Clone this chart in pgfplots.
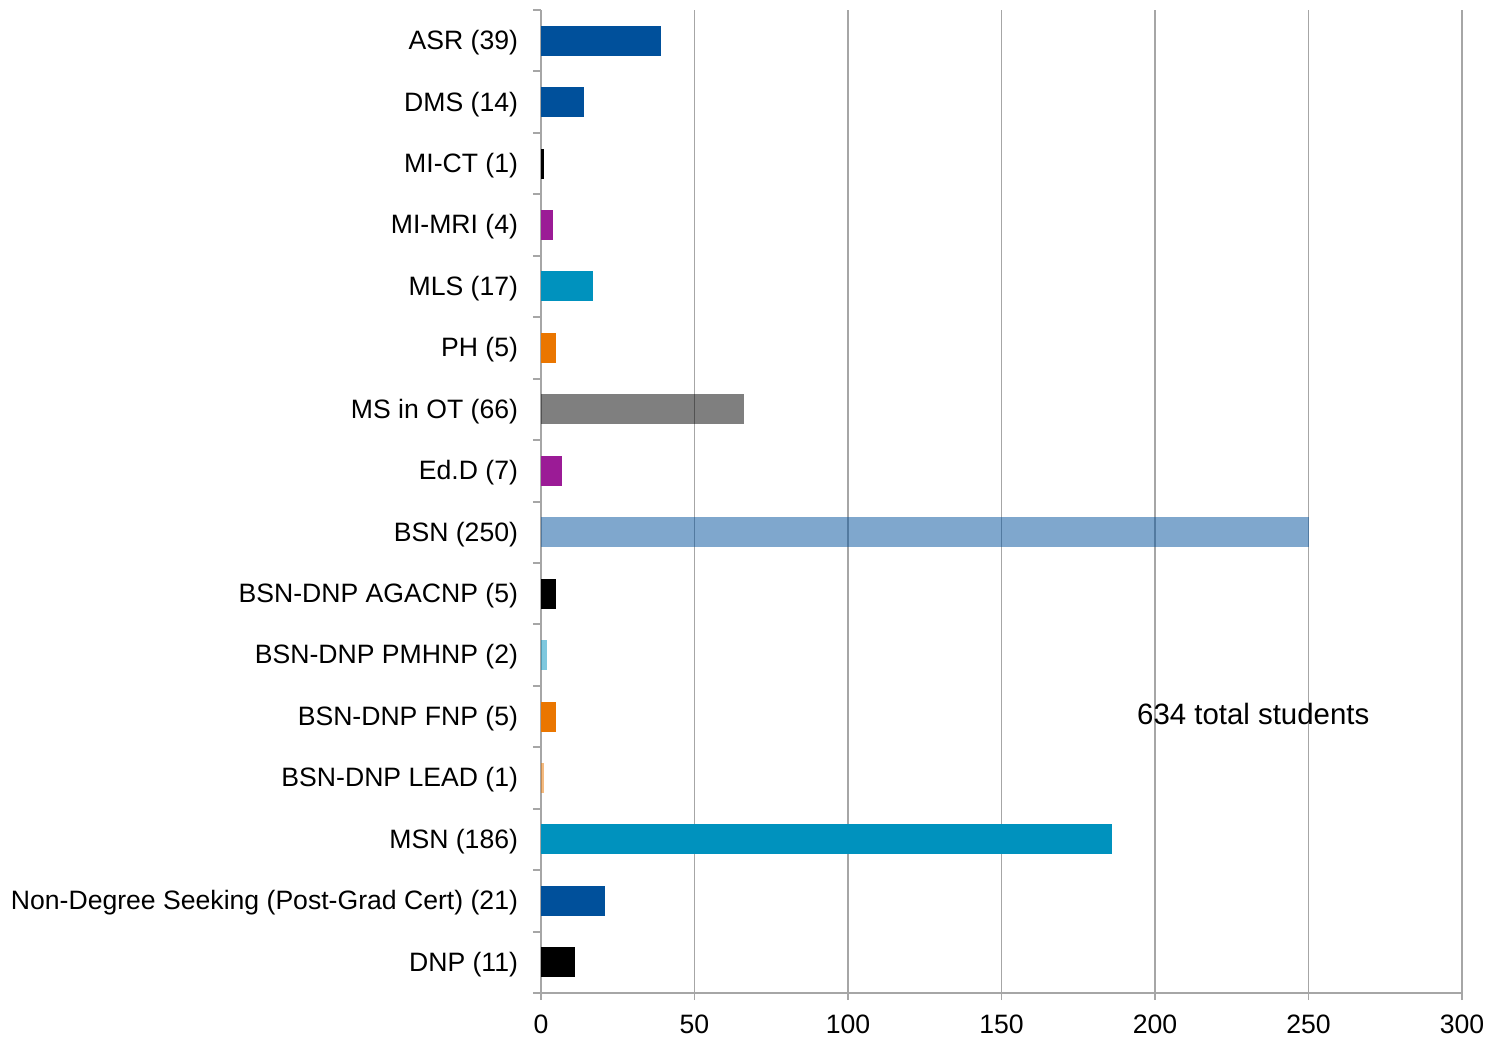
\documentclass[border=0pt]{standalone}
\usepackage{pgfplots}
\pgfplotsset{compat=1.18}
\usepackage{fontspec}
\setmainfont{Liberation Sans}

\definecolor{dblue}{HTML}{00509B}
\definecolor{teal}{HTML}{0092BE}
\definecolor{purp}{HTML}{9B1B96}
\definecolor{orng}{HTML}{EA7600}
\definecolor{gridgray}{HTML}{A6A6A6}

\begin{document}
\begin{tikzpicture}
\begin{axis}[
    scale only axis,
    width=460.5bp, height=491.5bp,
    xbar, bar width=15bp, bar shift=0pt,
    xmin=0, xmax=300,
    ymin=-0.5, ymax=15.5,
    y dir=reverse,
    xtick={0,50,...,300},
    ytick={0,...,15},
    yticklabels={ASR (39),DMS (14),MI-CT (1),MI-MRI (4),MLS (17),PH (5),MS in OT (66),Ed.D (7),BSN (250),BSN-DNP AGACNP (5),BSN-DNP PMHNP (2),BSN-DNP FNP (5),BSN-DNP LEAD (1),MSN (186),Non-Degree Seeking (Post-Grad Cert) (21),DNP (11)},
    minor ytick={-0.5,0.5,...,15.5},
    tick align=outside,
    ytick style={draw=none},
    minor y tick style={draw=gridgray, line width=1pt},
    minor tick length=4bp,
    xtick style={draw=gridgray, line width=0.8pt},
    major tick length=3.5bp,
    xmajorgrids,
    grid style={gridgray, line width=0.8pt},
    axis x line*=bottom, axis y line*=left,
    axis line style={gridgray, line width=1pt, -},
    tick label style={font=\fontsize{13.3bp}{15bp}\selectfont},
    yticklabel style={inner sep=0pt, xshift=-7.8bp, yshift=-1bp},
    xticklabel style={inner sep=0pt, yshift=-7.2bp},
    /pgf/number format/assume math mode=true,
]
\addplot[fill=dblue, draw=none] coordinates {(39,0)};
\addplot[fill=dblue, draw=none] coordinates {(14,1)};
\addplot[fill=black, draw=none] coordinates {(1,2)};
\addplot[fill=purp, draw=none] coordinates {(4,3)};
\addplot[fill=teal, draw=none] coordinates {(17,4)};
\addplot[fill=orng, draw=none] coordinates {(5,5)};
\addplot[fill=black, fill opacity=0.5, draw=none] coordinates {(66,6)};
\addplot[fill=purp, draw=none] coordinates {(7,7)};
\addplot[fill=dblue, fill opacity=0.5, draw=none] coordinates {(250,8)};
\addplot[fill=black, draw=none] coordinates {(5,9)};
\addplot[fill=teal, fill opacity=0.5, draw=none] coordinates {(2,10)};
\addplot[fill=orng, draw=none] coordinates {(5,11)};
\addplot[fill=orng, fill opacity=0.5, draw=none] coordinates {(1,12)};
\addplot[fill=teal, draw=none] coordinates {(186,13)};
\addplot[fill=dblue, draw=none] coordinates {(21,14)};
\addplot[fill=black, draw=none] coordinates {(11,15)};
\node[font=\fontsize{14.7bp}{17bp}\selectfont, yshift=1.5bp] at (axis cs:232,11) {634 total students};
\end{axis}
\path ([shift={(-270.5bp,-23bp)}]current axis.south west) rectangle ([shift={(480bp,496.5bp)}]current axis.south west);
\end{tikzpicture}
\end{document}
